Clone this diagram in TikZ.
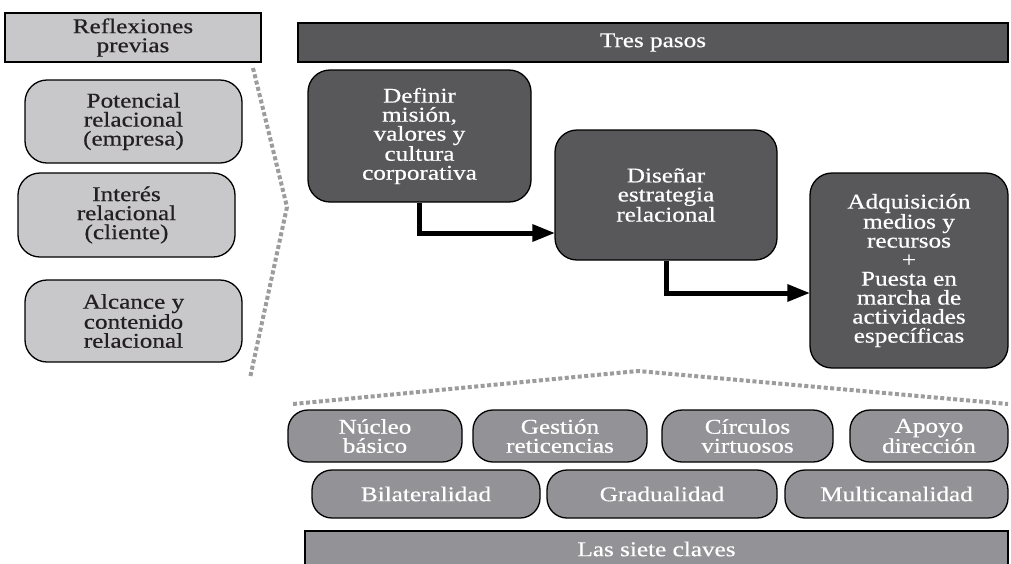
\documentclass[tikz,border=0pt]{standalone}
\usepackage{fontspec}
\setmainfont{Liberation Serif}[FakeStretch=1.2, FakeBold=0.5]
\definecolor{lightfill}{HTML}{C8C8CA}
\definecolor{darkfill}{HTML}{58585A}
\definecolor{midfill}{HTML}{939397}
\definecolor{dotgray}{HTML}{9C9C9C}
\definecolor{inkdark}{HTML}{231F20}
\begin{document}
\begin{tikzpicture}[x=1pt,y=-1pt]
	\tikzstyle{every node}+=[inner sep=0pt, align=center, font=\fontsize{21}{19}\selectfont]
	\tikzstyle{lightbox}=[draw=black, line width=1.3pt, fill=lightfill, text=inkdark, rounded corners=22pt]
	\tikzstyle{darkbox}=[draw=black, line width=1.3pt, fill=darkfill, text=white, rounded corners=22pt]
	\tikzstyle{keybox}=[draw=black, line width=1.3pt, fill=midfill, text=white, rounded corners=20pt]
	\tikzstyle{bar}=[draw=black, line width=1.3pt]
	\tikzstyle{dotline}=[dotgray, line width=4pt, dash pattern=on 4pt off 2.5pt]
	\tikzstyle{flowline}=[black, line width=5pt]
	\useasboundingbox (0,0) rectangle (1011,563);
	\clip (0,0) rectangle (1011,563);
	\node [bar, fill=lightfill, text=inkdark, minimum width=256, minimum height=49] (refl) at (133,37.5) {Reflexiones\\previas};
	\node [lightbox, minimum width=217, minimum height=83] (pot) at (133.5,121.5) {Potencial\\relacional\\(empresa)};
	\node [lightbox, minimum width=217, minimum height=84] (inter) at (126.5,215) {Interés\\relacional\\(cliente)};
	\node [lightbox, minimum width=217, minimum height=82] (alc) at (133.5,321) {Alcance y\\contenido\\relacional};
	\coordinate (l1) at (253,68);
	\coordinate (l2) at (287,207);
	\coordinate (l3) at (250,378);
	\draw [dotline] (l1) -- (l2) -- (l3);
	\node [bar, fill=darkfill, text=white, minimum width=710, minimum height=39] (tres) at (653,42.5) {Tres pasos};
	\node [darkbox, minimum width=223, minimum height=132] (def) at (419.5,136) {Definir\\misión,\\valores y\\cultura\\corporativa};
	\node [darkbox, minimum width=222, minimum height=130] (dis) at (666,195) {Diseñar\\estrategia\\relacional};
	\node [darkbox, minimum width=198, minimum height=195] (adq) at (909,270.5) {Adquisición\\medios y\\recursos\\+\\Puesta en\\marcha de\\actividades\\específicas};
	\coordinate (h1) at ([yshift=-38pt]dis.west);
	\coordinate (h2) at ([yshift=-22.5pt]adq.west);
	\draw [flowline] (def.south) |- ([xshift=-18pt]h1);
	\fill [black] (h1) -- ++(-22,-9) -- ++(0,18) -- cycle;
	\draw [flowline] (dis.south) |- ([xshift=-18pt]h2);
	\fill [black] (h2) -- ++(-22,-9) -- ++(0,18) -- cycle;
	\coordinate (b1) at (293,404);
	\coordinate (b2) at (638,371);
	\coordinate (b3) at (1008,404);
	\draw [dotline] (b1) -- (b2) -- (b3);
	\node [keybox, minimum width=174, minimum height=52] (nuc) at (375,436) {Núcleo\\básico};
	\node [keybox, minimum width=174, minimum height=52] (ges) at (560,436) {Gestión\\reticencias};
	\node [keybox, minimum width=171, minimum height=52] (cir) at (747.5,436) {Círculos\\virtuosos};
	\node [keybox, minimum width=158, minimum height=52] (apo) at (929,436) {Apoyo\\dirección};
	\node [keybox, minimum width=228, minimum height=48] (bil) at (426,494) {Bilateralidad};
	\node [keybox, minimum width=230, minimum height=48] (gra) at (662,494) {Gradualidad};
	\node [keybox, minimum width=223, minimum height=48] (mul) at (896.5,494) {Multicanalidad};
	\node [bar, fill=midfill, text=white, minimum width=703, minimum height=36] (claves) at (656.5,549) {Las siete claves};
\end{tikzpicture}
\end{document}
